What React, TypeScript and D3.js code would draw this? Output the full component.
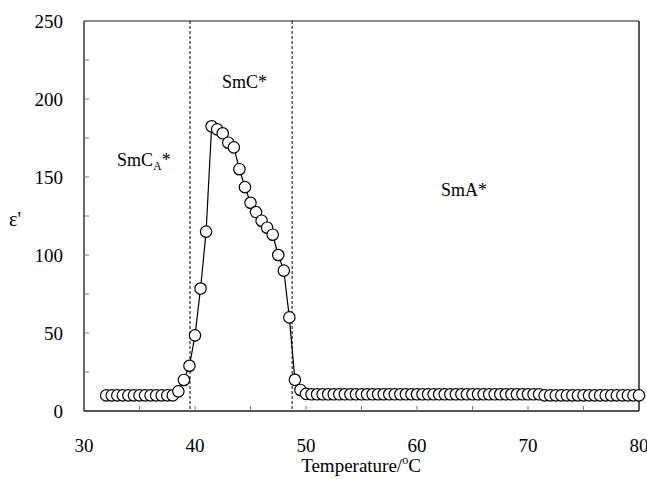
import React from "react";
import * as d3 from "d3";

const temperatures: number[] = [
  32, 32.5, 33, 33.5, 34, 34.5, 35, 35.5, 36, 36.5, 37, 37.5, 38,
  38.5, 39, 39.5, 40, 40.5, 41, 41.5, 42, 42.5, 43, 43.5, 44, 44.5, 45,
  45.5, 46, 46.5, 47, 47.5, 48, 48.5, 49, 49.5, 50,
  50.5, 51, 51.5, 52, 52.5, 53, 53.5, 54, 54.5, 55, 55.5, 56, 56.5, 57,
  57.5, 58, 58.5, 59, 59.5, 60, 60.5, 61, 61.5, 62, 62.5, 63, 63.5, 64,
  64.5, 65, 65.5, 66, 66.5, 67, 67.5, 68, 68.5, 69, 69.5, 70, 70.5, 71,
  71.5, 72, 72.5, 73, 73.5, 74, 74.5, 75, 75.5, 76, 76.5, 77, 77.5, 78,
  78.5, 79, 79.5, 80,
];

const permittivity: number[] = [
  10, 10, 10, 10, 10, 10, 10, 10, 10, 10, 10, 10, 10,
  12.6, 19.9, 29, 48.5, 78.5, 115, 182.5, 180.5, 178, 172, 169, 155, 143.5, 133.5,
  127.5, 122, 117.5, 113, 100, 90, 60, 20, 13.5, 11,
  10.7, 10.7, 10.7, 10.7, 10.7, 10.7, 10.7, 10.7, 10.7, 10.7, 10.7, 10.7, 10.7, 10.7,
  10.7, 10.7, 10.7, 10.7, 10.7, 10.7, 10.7, 10.7, 10.7, 10.7, 10.7, 10.7, 10.7, 10.7,
  10.7, 10.7, 10.7, 10.7, 10.7, 10.7, 10.7, 10.7, 10.7, 10.7, 10.7, 10.7, 10.7, 10.7,
  10, 10, 10, 10, 10, 10, 10, 10, 10, 10, 10, 10, 10, 10,
  10, 10, 10, 10,
];

const xTickLabels: number[] = [30, 40, 50, 60, 70, 80];
const xMinorTicks: number[] = [35, 40, 45, 50, 55, 60, 65, 70, 75];
const yTickLabels: number[] = [0, 50, 100, 150, 200, 250];
const yMinorTicks: number[] = [25, 50, 75, 100, 125, 150, 175, 200, 225];
const phaseBoundaries: number[] = [39.55, 48.75];

const W = 647;
const H = 479;
const margin = { left: 84, right: 8, top: 21, bottom: 68 };
const FONT = '"Liberation Serif", "DejaVu Serif", serif';

export default function App() {
  const x = d3.scaleLinear().domain([30, 80]).range([margin.left, W - margin.right]);
  const y = d3.scaleLinear().domain([0, 250]).range([H - margin.bottom, margin.top]);
  const pts = temperatures.map((t, i) => [t, permittivity[i]] as [number, number]);
  const line = d3
    .line<[number, number]>()
    .x((d) => x(d[0]))
    .y((d) => y(d[1]));

  const x0 = x(30);
  const x1 = x(80);
  const y0 = y(0);
  const y1 = y(250);

  return (
    <div style={{ position: "absolute", left: 0, top: 0, width: W, height: H, fontFamily: FONT }}>
      <svg width={W} height={H} style={{ display: "block", background: "#fff" }}>
        <g style={{ fontFamily: FONT }} fill="#000">
          {/* frame */}
          <line x1={x0} x2={x1} y1={y1} y2={y1} stroke="#666" strokeWidth={1.5} />
          <line x1={x0} x2={x1} y1={y0} y2={y0} stroke="#555" strokeWidth={2} />
          <line x1={x0} x2={x0} y1={y1} y2={y0} stroke="#333" strokeWidth={1.5} />
          <line x1={x1} x2={x1} y1={y1} y2={y0} stroke="#222" strokeWidth={1.5} />

          {xMinorTicks.map((t) => (
            <line key={"xt" + t} x1={x(t)} x2={x(t)} y1={y0} y2={y0 - 5} stroke="#777" strokeWidth={1} />
          ))}
          {yMinorTicks.map((t) => (
            <line key={"yt" + t} x1={x0} x2={x0 + 5} y1={y(t)} y2={y(t)} stroke="#777" strokeWidth={1} />
          ))}

          {xTickLabels.map((t) => (
            <text key={"xl" + t} x={x(t)} y={452} fontSize={19} textAnchor="middle">
              {t}
            </text>
          ))}
          {yTickLabels.map((t) => (
            <text key={"yl" + t} x={63} y={y(t) + 6.5} fontSize={19} textAnchor="end">
              {t}
            </text>
          ))}

          <text x={361} y={472} fontSize={19} textAnchor="middle">
            Temperature/
            <tspan fontSize={12} dy={-8}>o</tspan>
            <tspan dy={8}>C</tspan>
          </text>
          <text x={9} y={226} fontSize={20}>
            ε'
          </text>

          {phaseBoundaries.map((b) => (
            <line
              key={"pb" + b}
              x1={x(b)}
              x2={x(b)}
              y1={y1}
              y2={y0}
              stroke="#000"
              strokeWidth={1}
              strokeDasharray="3,2"
            />
          ))}

          <text x={117} y={166} fontSize={18}>
            SmC
            <tspan fontSize={12} dy={4}>A</tspan>
            <tspan dy={-4}>*</tspan>
          </text>
          <text x={222} y={88} fontSize={18}>
            SmC*
          </text>
          <text x={441} y={196} fontSize={18}>
            SmA*
          </text>

          <path d={line(pts) || ""} fill="none" stroke="#000" strokeWidth={1.2} />
          {pts.map((d, i) => (
            <circle
              key={"p" + i}
              cx={x(d[0])}
              cy={y(d[1])}
              r={5.7}
              fill="#fff"
              stroke="#000"
              strokeWidth={1.2}
            />
          ))}
        </g>
      </svg>
    </div>
  );
}
